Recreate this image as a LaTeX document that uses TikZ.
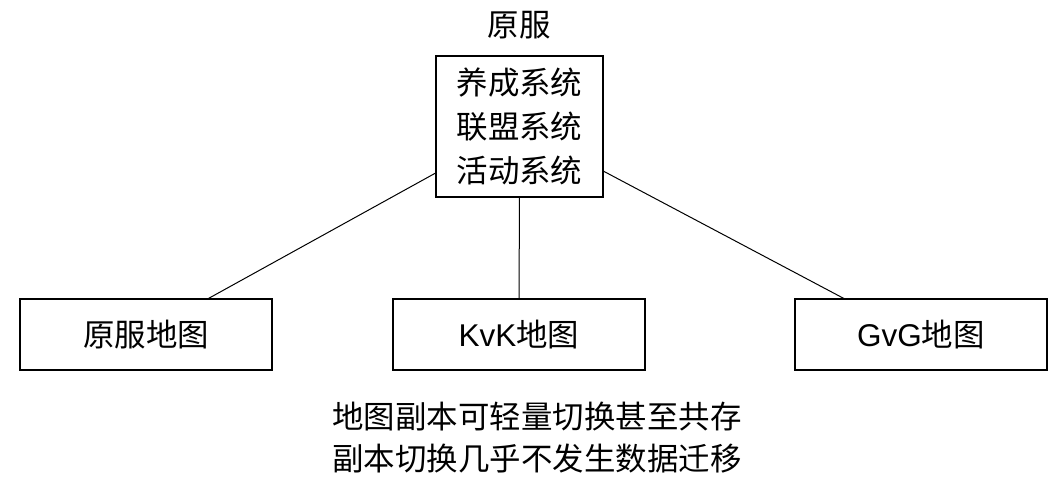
\documentclass[tikz,border=0pt]{standalone}
\usepackage{fontspec}
\setmainfont{Liberation Sans}
\newfontfamily\cjk{Noto Sans CJK SC}

\tikzset{
    big/.style={font=\fontsize{23.6}{33}\selectfont, align=center},
    box/.style={draw, line width=1pt, inner sep=0pt, outer sep=0pt},
    mapbox/.style={box, minimum width=189pt, minimum height=53.25pt}
}

\begin{document}
\begin{tikzpicture}[x=0.75pt, y=-0.75pt]
    \useasboundingbox (0, 0) rectangle (1058, 494);

    \node[big] (title) at (519, 25) {\cjk 原服};

    \node[box, big, minimum width=125.25pt, minimum height=105.75pt] (sys) at (519.5, 126.5) {\cjk 养成系统\\\cjk 联盟系统\\\cjk 活动系统};

    \node[mapbox, big] (mapa) at (146, 334.5) {\cjk 原服地图};
    \node[mapbox, big] (mapb) at (519, 334.5) {KvK{\cjk 地图}};
    \node[mapbox, big] (mapc) at (921, 334.5) {GvG{\cjk 地图}};

    \draw[line width=0.75pt] (sys.209) -- (mapa.30);
    \draw[line width=0.75pt] (sys.south) -- (mapb.north);
    \draw[line width=0.75pt] (sys.332) -- (mapc.155);

    \node[big, font=\fontsize{23.6}{31.5}\selectfont] (note) at (537, 438) {\cjk 地图副本可轻量切换甚至共存\\\cjk 副本切换几乎不发生数据迁移};

\end{tikzpicture}
\end{document}
